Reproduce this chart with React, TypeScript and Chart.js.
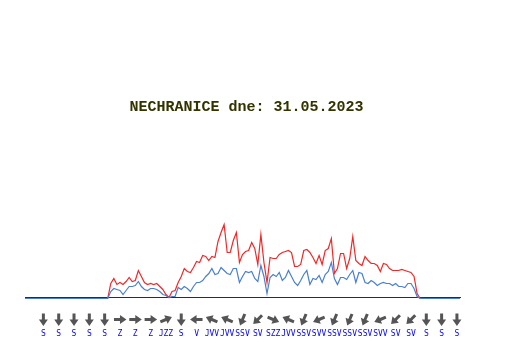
import React, { useEffect, useRef } from "react";
import { Chart, registerables } from "chart.js";

Chart.register(...registerables);

const TITLE = "NECHRANICE dne: 31.05.2023";

// wind gusts (m/s), 10-minute samples
const gust = [
  0, 0, 0, 0, 0, 0, 0, 0, 0, 0,
  0, 0, 0, 0, 0, 0, 0, 0, 0, 0,
  0, 0, 0, 0, 0, 0, 0, 0, 1.5, 2.0,
  1.4, 1.6, 1.4, 1.7, 2.1, 1.7, 1.8, 2.8, 2.2, 1.6,
  1.4, 1.5, 1.4, 1.5, 1.2, 0.9, 0.4, 0.1, 0.7, 0.8,
  1.6, 2.2, 3.0, 2.7, 2.6, 3.1, 3.7, 3.6, 4.3, 4.2,
  3.8, 4.2, 4.1, 5.7, 6.6, 7.4, 4.6, 4.6, 5.8, 6.6,
  3.6, 4.4, 4.7, 4.8, 5.6, 5.0, 3.4, 6.4, 3.6, 1.6,
  4.1, 4.0, 4.0, 4.4, 4.6, 4.7, 4.8, 4.6, 3.2, 3.2,
  3.4, 4.8, 4.9, 4.6, 4.1, 3.5, 4.3, 3.4, 4.8, 5.0,
  6.0, 2.5, 3.0, 4.5, 4.5, 3.0, 4.0, 6.2, 3.8, 3.5,
  3.3, 4.2, 3.8, 3.5, 3.5, 3.3, 2.7, 3.5, 3.4, 3.0,
  2.8, 2.8, 2.8, 2.9, 2.8, 2.7, 2.6, 2.2, 0.5, 0,
  0, 0, 0, 0, 0, 0, 0, 0, 0, 0,
  0, 0, 0,
];

// mean wind speed (m/s), 10-minute samples
const speed = [
  0, 0, 0, 0, 0, 0, 0, 0, 0, 0,
  0, 0, 0, 0, 0, 0, 0, 0, 0, 0,
  0, 0, 0, 0, 0, 0, 0, 0, 0.7, 1.0,
  0.9, 0.8, 0.4, 0.8, 1.2, 1.2, 1.3, 1.7, 1.2, 0.9,
  0.8, 1.0, 1.0, 0.9, 0.7, 0.4, 0.3, 0.1, 0.2, 0.2,
  1.1, 0.9, 1.2, 1.0, 0.7, 1.2, 1.6, 1.6, 1.8, 2.2,
  2.5, 3.0, 2.4, 2.5, 3.1, 2.8, 2.5, 2.4, 3.0, 3.0,
  1.6, 2.2, 2.7, 2.6, 2.7, 2.0, 1.7, 3.3, 2.2, 0.5,
  2.1, 2.4, 2.2, 2.6, 1.8, 2.1, 2.8, 2.2, 1.6, 1.3,
  1.8, 2.4, 2.8, 1.4, 2.0, 1.9, 2.3, 1.6, 2.4, 2.7,
  3.6, 2.0, 1.4, 2.1, 2.1, 1.9, 2.4, 2.8, 1.6, 2.6,
  2.5, 1.6, 1.5, 1.8, 1.6, 1.3, 1.5, 1.6, 1.5, 1.5,
  1.3, 1.5, 1.2, 1.2, 1.1, 1.5, 1.5, 1.0, 0.2, 0,
  0, 0, 0, 0, 0, 0, 0, 0, 0, 0,
  0, 0, 0,
];

// sample index of each wind-direction reading
const directionSlots = [
  6, 11, 16, 21, 26, 31, 36, 41, 46, 51, 56, 61, 66, 71,
  76, 81, 86, 91, 96, 101, 106, 111, 116, 121, 126, 131, 136, 141,
];

// wind direction (where it blows from), Czech compass names
const directions = [
  "S", "S", "S", "S", "S", "Z", "Z", "Z", "JZZ", "S", "V", "JVV", "JVV", "SSV",
  "SV", "SZZ", "JVV", "SSV", "SVV", "SSV", "SSV", "SSV", "SVV", "SV", "SV", "S", "S", "S",
];

const COMPASS: Record<string, number> = {
  S: 0, SSV: 22.5, SV: 45, SVV: 67.5, V: 90, JVV: 112.5, JV: 135, JJV: 157.5,
  J: 180, JJZ: 202.5, JZ: 225, JZZ: 247.5, Z: 270, SZZ: 292.5, SZ: 315, SSZ: 337.5,
};

const arrowPlugin = {
  id: "windArrows",
  afterDraw(chart: any) {
    const xs = chart.scales.x;
    const ctx = chart.ctx as CanvasRenderingContext2D;
    const cy = chart.chartArea.bottom + 22.5;
    ctx.save();
    ctx.fillStyle = "#555555";
    directionSlots.forEach((slot, k) => {
      const px = xs.getPixelForValue(slot);
      const ang = ((COMPASS[directions[k]] + 180) * Math.PI) / 180;
      ctx.save();
      ctx.translate(px, cy);
      ctx.rotate(ang);
      ctx.beginPath();
      ctx.moveTo(-1.5, 6);
      ctx.lineTo(1.5, 6);
      ctx.lineTo(1.5, 0);
      ctx.lineTo(4.5, 0);
      ctx.lineTo(0, -6.5);
      ctx.lineTo(-4.5, 0);
      ctx.lineTo(-1.5, 0);
      ctx.closePath();
      ctx.fill();
      ctx.restore();
    });
    ctx.restore();
  },
};

export default function App() {
  const ref = useRef<HTMLCanvasElement | null>(null);
  useEffect(() => {
    if (!ref.current) return;
    const chart = new Chart(ref.current, {
      type: "line",
      data: {
        datasets: [
          {
            label: "rychlost",
            data: speed.map((v, i) => ({ x: i, y: v })),
            borderColor: "#4a7fd0",
            borderWidth: 1.2,
            pointRadius: 0,
            tension: 0,
            clip: false as any,
          },
          {
            label: "náraz",
            data: gust.map((v, i) => ({ x: i, y: v })),
            borderColor: "#f02828",
            borderWidth: 1.2,
            pointRadius: 0,
            tension: 0,
            clip: false as any,
          },
        ],
      },
      options: {
        animation: false,
        responsive: true,
        maintainAspectRatio: false,
        layout: { padding: { left: 25, right: 64, top: 0, bottom: 0 } },
        plugins: {
          legend: { display: false },
          tooltip: { enabled: false },
          title: {
            display: true,
            text: TITLE,
            color: "#333300",
            font: { family: "Liberation Mono", size: 15, weight: "bold" },
            padding: { top: 98, bottom: 11 },
          },
        },
        scales: {
          x: {
            type: "linear",
            min: 0,
            max: 142,
            grid: { display: false, drawTicks: false },
            border: { display: true, color: "#333300", width: 1 },
            afterBuildTicks: (scale: any) => {
              scale.ticks = directionSlots.map((v) => ({ value: v }));
            },
            afterFit: (scale: any) => {
              scale.height = 63;
            },
            ticks: {
              autoSkip: false,
              maxRotation: 0,
              minRotation: 0,
              padding: 32,
              color: "#0000ff",
              font: { family: "DejaVu Sans Mono", size: 8 },
              callback: (_v: any, i: number) => directions[i],
            },
          },
          y: {
            position: "right",
            min: 0.15,
            max: 17.15,
            grid: { display: false },
            border: { display: false },
            ticks: { display: false },
            afterFit: (scale: any) => {
              scale.width = 8;
            },
          },
        },
      },
      plugins: [arrowPlugin],
    });
    return () => chart.destroy();
  }, []);
  return (
    <div style={{ position: "fixed", left: 0, top: 0, width: 532, height: 360, background: "#fff" }}>
      <canvas ref={ref} />
    </div>
  );
}
